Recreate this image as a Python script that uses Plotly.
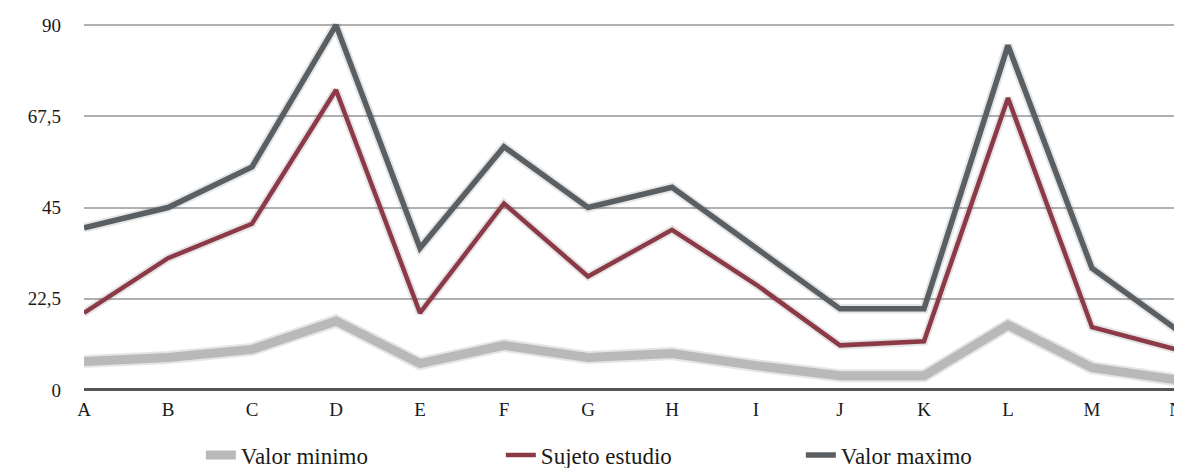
import plotly.graph_objects as go

categories = ["A", "B", "C", "D", "E", "F", "G", "H", "I", "J", "K", "L", "M", "N"]
valor_minimo = [7, 8, 10, 17, 6.5, 11, 8, 9, 6, 3.5, 3.5, 16, 5.5, 2.5]
sujeto_estudio = [19, 32.5, 41, 74, 19, 46, 28, 39.5, 26, 11, 12, 72, 15.5, 10]
valor_maximo = [40, 45, 55, 90, 35, 60, 45, 50, 35, 20, 20, 85, 30, 15]
y_ticks = [0, 22.5, 45, 67.5, 90]
y_tick_labels = ["0", "22,5", "45", "67,5", "90"]

series = [
    ("Valor minimo", valor_minimo, "#b9b9b9", 9),
    ("Sujeto estudio", sujeto_estudio, "#8c3a48", 4.5),
    ("Valor maximo", valor_maximo, "#5a5f63", 5.5),
]

fig = go.Figure()
for name, vals, color, w in series:
    # soft shadow under each line
    fig.add_trace(go.Scatter(x=categories, y=vals, mode="lines",
                             line=dict(color="rgba(80,80,80,0.15)", width=w + 4),
                             showlegend=False, hoverinfo="skip"))
    fig.add_trace(go.Scatter(x=categories, y=vals, mode="lines", name=name,
                             line=dict(color=color, width=w)))

# the page adds an 8px body margin, so the figure is sized to fit the window
fig.update_layout(
    width=1174, height=460,
    margin=dict(l=76, r=6, t=9, b=74, autoexpand=False),
    paper_bgcolor="white", plot_bgcolor="white",
    font=dict(family="Liberation Serif", size=19, color="#1a1a1a"),
    showlegend=True,
    legend=dict(orientation="h", x=0.107, xanchor="left", y=-0.162, yanchor="middle",
                entrywidth=255, entrywidthmode="pixels",
                font=dict(family="Liberation Serif", size=23, color="#1a1a1a")),
    xaxis=dict(range=[0, 13], showgrid=False, zeroline=False, showline=False,
               ticks="", tickfont=dict(size=19), ticklabelstandoff=2, automargin=False),
    yaxis=dict(range=[-1, 92], tickvals=y_ticks, ticktext=y_tick_labels,
               showgrid=True, gridcolor="#b0b0b0", gridwidth=2,
               zeroline=True, zerolinecolor="#555555", zerolinewidth=3,
               ticks="", ticklabelstandoff=22, tickfont=dict(size=19), automargin=False),
)

fig.write_html("out.html")
